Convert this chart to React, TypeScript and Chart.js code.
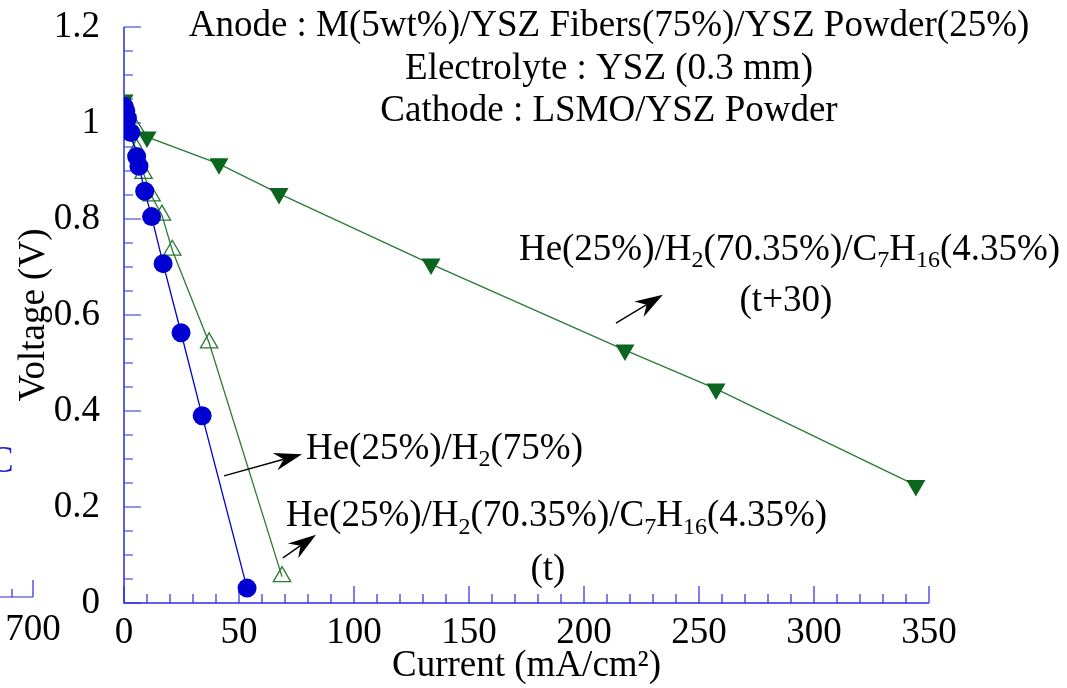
import React, { useEffect, useRef } from 'react';
import { Chart, registerables } from 'chart.js';
Chart.register(...registerables);

const FONT = '"Liberation Serif", "Times New Roman", serif';
const FS = 37;

// Data: He(25%)/H2(75%) – blue circles
const h2X = [0, 0.8, 1.5, 3, 5.5, 6.5, 9, 12, 17, 24.8, 34, 53.5];
const h2Y = [1.035, 1.025, 1.01, 0.98, 0.93, 0.91, 0.858, 0.805, 0.707, 0.563, 0.39, 0.031];

// He(25%)/H2(70.35%)/C7H16(4.35%) (t) – open green triangles
const tX = [0, 0.3, 5.5, 8.5, 12, 16.5, 21, 37, 68.7];
const tY = [1.04, 0.99, 0.945, 0.895, 0.848, 0.808, 0.735, 0.542, 0.055];

// He(25%)/H2(70.35%)/C7H16(4.35%) (t+30) – filled green down triangles
const t30X = [0, 10, 41.3, 67.4, 133.5, 217.8, 257.4, 344.3];
const t30Y = [1.048, 0.971, 0.915, 0.853, 0.706, 0.527, 0.446, 0.245];

const xMin = 0, xMax = 350, xMajor = 50, xMinor = 10;
const yMin = 0, yMax = 1.2, yMajor = 0.2, yMinor = 0.05;

const titleLines = [
  'Anode : M(5wt%)/YSZ Fibers(75%)/YSZ Powder(25%)',
  'Electrolyte : YSZ (0.3 mm)',
  'Cathode : LSMO/YSZ Powder',
];

type Seg = [string, number]; // 0 normal, 1 subscript
const labelC7: Seg[] = [['He(25%)/H', 0], ['2', 1], ['(70.35%)/C', 0], ['7', 1], ['H', 0], ['16', 1], ['(4.35%)', 0]];
const labelH2: Seg[] = [['He(25%)/H', 0], ['2', 1], ['(75%)', 0]];

const AXIS_COLOR = '#2b2be0';
const BLUE = '#0000d0';
const GREEN_LINE = '#2a7a35';
const GREEN_FILL = '#0a651e';

function zip(xs: number[], ys: number[]) {
  return xs.map((x, i) => ({ x, y: ys[i] }));
}

function drawRich(ctx: CanvasRenderingContext2D, segs: Seg[], x: number, y: number, size: number) {
  let cx = x;
  for (const [t, sub] of segs) {
    if (sub) {
      ctx.font = `${Math.round(size * 0.66)}px ${FONT}`;
      ctx.fillText(t, cx, y + size * 0.2);
    } else {
      ctx.font = `${size}px ${FONT}`;
      ctx.fillText(t, cx, y);
    }
    cx += ctx.measureText(t).width;
  }
}

function drawArrow(ctx: CanvasRenderingContext2D, x0: number, y0: number, x1: number, y1: number) {
  const dx = x1 - x0, dy = y1 - y0;
  const len = Math.hypot(dx, dy);
  const ux = dx / len, uy = dy / len;
  const nx = -uy, ny = ux;
  const L = 28, W = 9, notch = 9;
  ctx.strokeStyle = '#000';
  ctx.lineWidth = 1.4;
  ctx.beginPath();
  ctx.moveTo(x0, y0);
  ctx.lineTo(x1 - ux * (L - notch), y1 - uy * (L - notch));
  ctx.stroke();
  ctx.fillStyle = '#000';
  ctx.beginPath();
  ctx.moveTo(x1, y1);
  ctx.lineTo(x1 - ux * L + nx * W, y1 - uy * L + ny * W);
  ctx.lineTo(x1 - ux * (L - notch), y1 - uy * (L - notch));
  ctx.lineTo(x1 - ux * L - nx * W, y1 - uy * L - ny * W);
  ctx.closePath();
  ctx.fill();
}

const axesPlugin = {
  id: 'customAxes',
  beforeDatasetsDraw(chart: any) {
    const ctx: CanvasRenderingContext2D = chart.ctx;
    const xs = chart.scales.x, ys = chart.scales.y;
    const x0 = xs.getPixelForValue(xMin), x1 = xs.getPixelForValue(xMax);
    const y0 = ys.getPixelForValue(yMin), y1 = ys.getPixelForValue(yMax);
    ctx.save();
    ctx.strokeStyle = AXIS_COLOR;
    ctx.lineWidth = 1.5;
    ctx.beginPath();
    ctx.moveTo(x0, y1);
    ctx.lineTo(x0, y0);
    ctx.lineTo(x1, y0);
    ctx.stroke();
    ctx.lineWidth = 1.2;
    ctx.beginPath();
    for (let v = xMin; v <= xMax + 1e-9; v += xMinor) {
      const px = xs.getPixelForValue(v);
      const major = Math.abs(v / xMajor - Math.round(v / xMajor)) < 1e-6;
      ctx.moveTo(px, y0);
      ctx.lineTo(px, y0 - (major ? 17 : 9));
    }
    for (let v = yMin; v <= yMax + 1e-9; v += yMinor) {
      const py = ys.getPixelForValue(v);
      const major = Math.abs(v / yMajor - Math.round(v / yMajor)) < 1e-6;
      ctx.moveTo(x0, py);
      ctx.lineTo(x0 + (major ? 17 : 9), py);
    }
    ctx.stroke();
    // cut-off fragment of neighbouring chart on the left
    ctx.beginPath();
    ctx.moveTo(0, 597);
    ctx.lineTo(33, 597);
    ctx.moveTo(12, 597);
    ctx.lineTo(12, 589);
    ctx.moveTo(33, 597);
    ctx.lineTo(33, 580);
    ctx.stroke();
    ctx.restore();
  },
  afterDraw(chart: any) {
    const ctx: CanvasRenderingContext2D = chart.ctx;
    const xs = chart.scales.x, ys = chart.scales.y;
    const P = (x: number, y: number) => [xs.getPixelForValue(x), ys.getPixelForValue(y)];
    ctx.save();
    ctx.fillStyle = '#000';
    ctx.textBaseline = 'alphabetic';
    // title block
    ctx.textAlign = 'center';
    ctx.font = `${FS}px ${FONT}`;
    const tb = [36, 79, 121];
    titleLines.forEach((t, i) => ctx.fillText(t, 609, tb[i]));
    // fragments at left
    ctx.fillText('700', 33, 640);
    ctx.fillStyle = '#2020e0';
    ctx.textAlign = 'left';
    ctx.fillText('C', -11, 472);
    ctx.fillStyle = '#000';
    // annotations
    ctx.textAlign = 'left';
    let [ax, ay] = P(171.7, 0.715);
    drawRich(ctx, labelC7, ax, ay, FS);
    ctx.textAlign = 'center';
    ctx.font = `${FS}px ${FONT}`;
    [ax, ay] = P(287.8, 0.608);
    ctx.fillText('(t+30)', ax, ay);
    ctx.textAlign = 'left';
    [ax, ay] = P(79.1, 0.3);
    drawRich(ctx, labelH2, ax, ay, FS);
    [ax, ay] = P(70.4, 0.16);
    drawRich(ctx, labelC7, ax, ay, FS);
    ctx.textAlign = 'center';
    ctx.font = `${FS}px ${FONT}`;
    [ax, ay] = P(184.3, 0.048);
    ctx.fillText('(t)', ax, ay);
    const arrows = [
      [213.9, 0.583, 234.3, 0.642],
      [43.5, 0.265, 77.4, 0.31],
      [69.1, 0.094, 83.5, 0.142],
    ];
    for (const [a, b, c, d] of arrows) {
      const [p0, q0] = P(a, b);
      const [p1, q1] = P(c, d);
      drawArrow(ctx, p0, q0, p1, q1);
    }
    ctx.restore();
  },
};

export default function App() {
  const ref = useRef<HTMLCanvasElement>(null);
  useEffect(() => {
    if (!ref.current) return;
    const chart = new Chart(ref.current, {
      type: 'line',
      data: {
        datasets: [
          {
            label: 'He(25%)/H2(75%)',
            data: zip(h2X, h2Y),
            borderColor: BLUE,
            backgroundColor: BLUE,
            borderWidth: 1.3,
            pointStyle: 'circle',
            pointRadius: 9.5,
            pointBorderWidth: 0,
            pointBackgroundColor: BLUE,
            tension: 0,
          },
          {
            label: 'He(25%)/H2(70.35%)/C7H16(4.35%) (t)',
            data: zip(tX, tY),
            borderColor: GREEN_LINE,
            backgroundColor: 'rgba(255,255,255,0)',
            borderWidth: 1.3,
            pointStyle: 'triangle',
            pointRadius: 10,
            pointBorderWidth: 1.3,
            pointBorderColor: GREEN_LINE,
            pointBackgroundColor: 'rgba(255,255,255,0)',
            tension: 0,
          },
          {
            label: 'He(25%)/H2(70.35%)/C7H16(4.35%) (t+30)',
            data: zip(t30X, t30Y),
            borderColor: GREEN_LINE,
            backgroundColor: GREEN_FILL,
            borderWidth: 1.3,
            pointStyle: 'triangle',
            pointRotation: 180,
            pointRadius: 11,
            pointBorderWidth: 0,
            pointBackgroundColor: GREEN_FILL,
            tension: 0,
          },
        ],
      },
      options: {
        animation: false,
        responsive: true,
        maintainAspectRatio: false,
        layout: { padding: { left: 0, right: 138, top: 27, bottom: 0 } },
        plugins: { legend: { display: false }, tooltip: { enabled: false } },
        scales: {
          x: {
            type: 'linear',
            min: xMin,
            max: xMax,
            border: { display: false },
            grid: { display: false, drawTicks: false },
            ticks: { stepSize: xMajor, padding: 8, color: '#000', font: { family: FONT, size: FS } },
            title: { display: true, text: 'Current (mA/cm²)', color: '#000', padding: 0, font: { family: FONT, size: FS } },
            afterFit: (s: any) => {
              s.height = 85;
              s.paddingLeft = 0;
              s.paddingRight = 0;
            },
          },
          y: {
            type: 'linear',
            min: yMin,
            max: yMax,
            border: { display: false },
            grid: { display: false, drawTicks: false },
            ticks: {
              stepSize: yMajor,
              padding: 24,
              color: '#000',
              font: { family: FONT, size: FS },
              callback: (v: any) => String(Number(Number(v).toFixed(2))),
            },
            title: { display: true, text: 'Voltage (V)', color: '#000', padding: 12, font: { family: FONT, size: FS } },
            afterFit: (s: any) => {
              s.width = 124;
              s.paddingTop = 0;
              s.paddingBottom = 0;
            },
          },
        },
      },
      plugins: [axesPlugin],
    });
    return () => chart.destroy();
  }, []);
  return (
    <div style={{ position: 'absolute', left: 0, top: 0, width: 1067, height: 688 }}>
      <canvas ref={ref} />
    </div>
  );
}
